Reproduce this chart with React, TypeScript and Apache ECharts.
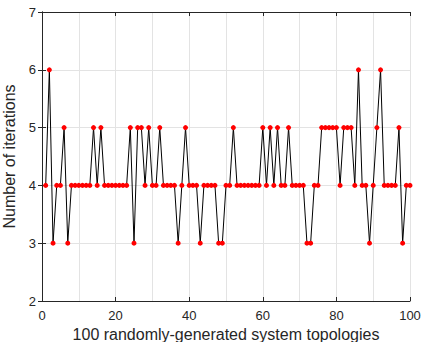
import React, { useEffect, useRef } from "react";
import * as echarts from "echarts";

const iterations: number[] = [
  4, 6, 3, 4, 4, 5, 3, 4, 4, 4,
  4, 4, 4, 5, 4, 5, 4, 4, 4, 4,
  4, 4, 4, 5, 3, 5, 5, 4, 5, 4,
  4, 5, 4, 4, 4, 4, 3, 4, 5, 4,
  4, 4, 3, 4, 4, 4, 4, 3, 3, 4,
  4, 5, 4, 4, 4, 4, 4, 4, 4, 5,
  4, 5, 4, 5, 4, 4, 5, 4, 4, 4,
  4, 3, 3, 4, 4, 5, 5, 5, 5, 5,
  4, 5, 5, 5, 4, 6, 4, 4, 3, 4,
  5, 6, 4, 4, 4, 4, 5, 3, 4, 4,
];
const topologyIndex: number[] = iterations.map((_, i) => i + 1);

const xLabel = "100 randomly-generated system topologies";
const yLabel = "Number of iterations";

const AXIS_COLOR = "#262626";
const GRID_COLOR = "#e3e3e3";
const FONT = "'Liberation Sans', Arial, Helvetica, sans-serif";

export default function App() {
  const ref = useRef<HTMLDivElement>(null);
  useEffect(() => {
    if (!ref.current) return;
    const chart = echarts.init(ref.current, null, { renderer: "svg" });
    const data = topologyIndex.map((x, i) => [x, iterations[i]]);
    const axisLine = { show: true, lineStyle: { color: AXIS_COLOR, width: 1 } };
    const tick = { show: true, inside: true, length: 4, lineStyle: { color: AXIS_COLOR, width: 1 } };
    chart.setOption({
      animation: false,
      backgroundColor: "#ffffff",
      textStyle: { fontFamily: FONT },
      grid: { left: 42, right: 12, top: 12, bottom: 41, containLabel: false, outerBoundsMode: "none" },
      xAxis: [
        {
          type: "value",
          position: "bottom",
          min: 0,
          max: 100,
          interval: 20,
          axisLine,
          axisTick: tick,
          axisLabel: { color: AXIS_COLOR, fontSize: 13, margin: 8, fontFamily: FONT },
          splitLine: { show: true, lineStyle: { color: GRID_COLOR, width: 1 } },
          minorTick: { show: false, splitNumber: 2 },
          minorSplitLine: { show: true, lineStyle: { color: GRID_COLOR, width: 1 } },
          name: xLabel,
          nameLocation: "middle",
          nameGap: 23,
          nameTextStyle: { color: AXIS_COLOR, fontSize: 16, fontFamily: FONT },
        },
        {
          type: "value",
          position: "top",
          min: 0,
          max: 100,
          interval: 20,
          axisLine,
          axisTick: tick,
          axisLabel: { show: false },
          splitLine: { show: false },
        },
      ],
      yAxis: [
        {
          type: "value",
          position: "left",
          min: 2,
          max: 7,
          interval: 1,
          axisLine,
          axisTick: tick,
          axisLabel: { color: AXIS_COLOR, fontSize: 13, margin: 6, fontFamily: FONT },
          splitLine: { show: true, lineStyle: { color: GRID_COLOR, width: 1 } },
          name: yLabel,
          nameLocation: "middle",
          nameGap: 25,
          nameTextStyle: { color: AXIS_COLOR, fontSize: 16, fontFamily: FONT },
        },
        {
          type: "value",
          position: "right",
          min: 2,
          max: 7,
          interval: 1,
          axisLine,
          axisTick: tick,
          axisLabel: { show: false },
          splitLine: { show: false },
        },
      ],
      series: [
        {
          type: "line",
          data,
          xAxisIndex: 0,
          yAxisIndex: 0,
          lineStyle: { color: "#000000", width: 1 },
          symbol: "circle",
          symbolSize: 5,
          itemStyle: { color: "#ff0000", borderWidth: 0 },
          showAllSymbol: true,
          clip: false,
          z: 3,
        },
      ],
    });
    return () => chart.dispose();
  }, []);
  return (
    <div
      ref={ref}
      style={{ position: "fixed", left: 0, top: 0, width: 422, height: 342, background: "#fff" }}
    />
  );
}
